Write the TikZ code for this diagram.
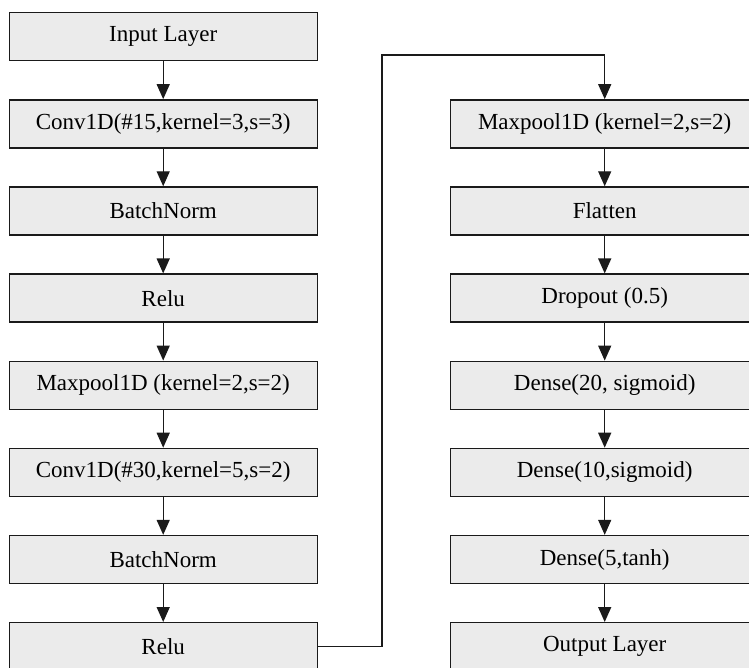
\documentclass[tikz,border=0pt]{standalone}
\usepackage{fontspec}
\setmainfont{Liberation Serif}
\usetikzlibrary{arrows.meta}
\definecolor{boxfill}{HTML}{EBEBEB}
\definecolor{edge}{HTML}{1A1A1A}
\begin{document}
\begin{tikzpicture}[x=1pt,y=-1pt,
  layer/.style={draw=edge, fill=boxfill, line width=1.4pt,
    minimum width=308pt, minimum height=48pt, inner sep=0pt,
    anchor=north west, font=\fontsize{23}{27}\selectfont},
  flow/.style={draw=edge, line width=1.4pt,
    -{Triangle[width=13pt,length=15pt]}}]
  \useasboundingbox (0,0) rectangle (749,667);
  \clip (0,0) rectangle (749,667);

  % left column
  \node[layer] (l1) at (8.5,12)     {Input Layer};
  \node[layer] (l2) at (8.5,99.14)  {Conv1D(\#15,kernel=3,s=3)};
  \node[layer] (l3) at (8.5,186.28) {BatchNorm};
  \node[layer] (l4) at (8.5,273.43) {Relu};
  \node[layer] (l5) at (8.5,360.57) {Maxpool1D (kernel=2,s=2)};
  \node[layer] (l6) at (8.5,447.71) {Conv1D(\#30,kernel=5,s=2)};
  \node[layer] (l7) at (8.5,534.85) {BatchNorm};
  \node[layer] (l8) at (8.5,622)    {Relu};

  % right column
  \node[layer] (r2) at (450,99.14)  {Maxpool1D (kernel=2,s=2)};
  \node[layer] (r3) at (450,186.28) {Flatten};
  \node[layer] (r4) at (450,273.43) {Dropout (0.5)};
  \node[layer] (r5) at (450,360.57) {Dense(20, sigmoid)};
  \node[layer] (r6) at (450,447.71) {Dense(10,sigmoid)};
  \node[layer] (r7) at (450,534.85) {Dense(5,tanh)};
  \node[layer] (r8) at (450,622)    {Output Layer};

  \foreach \a/\b in {l1/l2,l2/l3,l3/l4,l4/l5,l5/l6,l6/l7,l7/l8,
                     r2/r3,r3/r4,r4/r5,r5/r6,r6/r7,r7/r8}
    \draw[flow] (\a) -- (\b);

  % link between the two columns
  \coordinate (turn) at (382,55);
  \draw[flow] (l8.east) -| (turn) -| (r2.north);
\end{tikzpicture}
\end{document}
